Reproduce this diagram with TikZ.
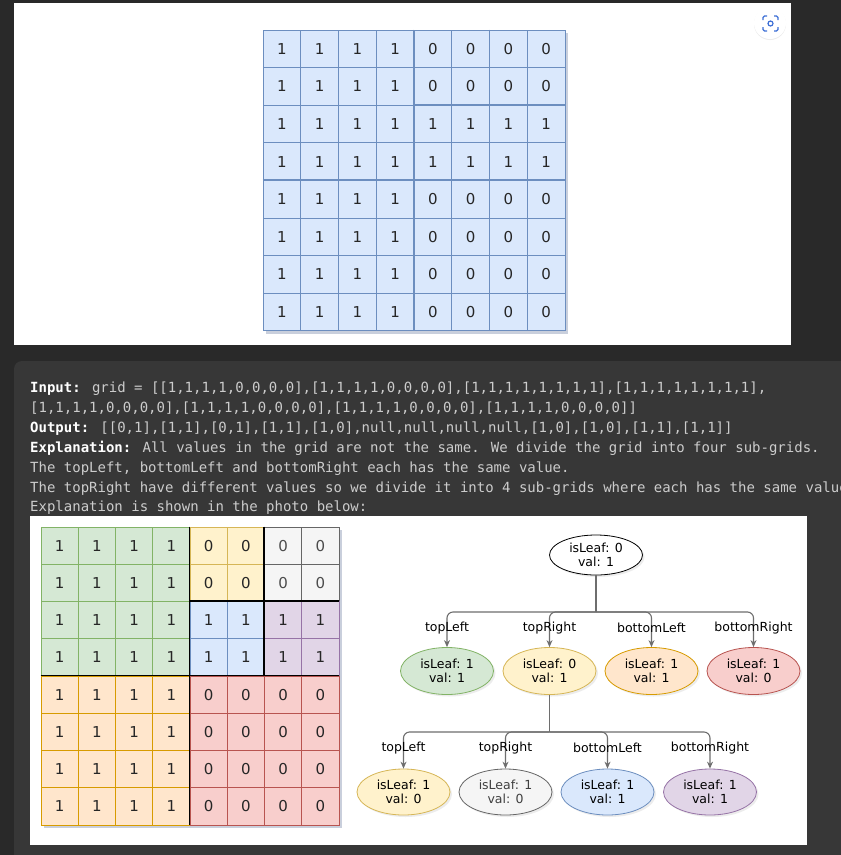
\documentclass[tikz,border=0pt]{standalone}
\usepackage{fontspec}
\setmainfont{DejaVu Sans}
\newfontfamily\codefont{DejaVu Sans Mono}
\usetikzlibrary{positioning,arrows.meta,shapes.geometric,shadows}

\definecolor{pagebg}{HTML}{292929}
\definecolor{boxbg}{HTML}{373737}
\definecolor{codegray}{HTML}{CCCCCC}
\definecolor{linkgray}{HTML}{6E6E6E}
\definecolor{iconblue}{HTML}{3D6FD6}
\definecolor{blueF}{HTML}{DAE8FC}   \definecolor{blueD}{HTML}{6C8EBF}
\definecolor{greenF}{HTML}{D5E8D4}  \definecolor{greenD}{HTML}{82B366}
\definecolor{yellowF}{HTML}{FFF2CC} \definecolor{yellowD}{HTML}{D6B656}
\definecolor{orangeF}{HTML}{FFE6CC} \definecolor{orangeD}{HTML}{D79B00}
\definecolor{redF}{HTML}{F8CECC}    \definecolor{redD}{HTML}{B85450}
\definecolor{grayF}{HTML}{F5F5F5}   \definecolor{grayD}{HTML}{666666}
\definecolor{purpleF}{HTML}{E1D5E7} \definecolor{purpleD}{HTML}{9673A6}
\definecolor{gridshade}{HTML}{C9CFDC}

\tikzset{
  cell/.style={draw, inner sep=0pt, line width=0.7pt, text=black!85, font=\fontsize{15}{15}\selectfont},
  qb/.style={fill=blueF, draw=blueD},
  qg/.style={fill=greenF, draw=greenD},
  qy/.style={fill=yellowF, draw=yellowD},
  qo/.style={fill=orangeF, draw=orangeD},
  qr/.style={fill=redF, draw=redD},
  qw/.style={fill=grayF, draw=grayD, text=black!70},
  qp/.style={fill=purpleF, draw=purpleD},
  tquad/.style={draw=blueD, line width=1.3pt},
  quad/.style={draw=black, line width=1.6pt},
  leaf/.style={ellipse, draw, line width=0.8pt, minimum width=93pt, minimum height=47pt, inner sep=0pt,
    align=center, font=\fontsize{12.5}{13.5}\selectfont,
    drop shadow={shadow xshift=2pt, shadow yshift=-2pt, opacity=.15}},
  lbl/.style={font=\fontsize{12.5}{12.5}\selectfont, inner sep=0pt},
  stem/.style={draw=linkgray, line width=1.1pt},
  link/.style={draw=linkgray, line width=1.1pt, rounded corners=6pt, -{Stealth[length=7pt,width=6pt]}},
  code/.style={anchor=base west, inner sep=0pt, text=codegray, font=\codefont\fontsize{14}{14}\selectfont},
}

\begin{document}
\begin{tikzpicture}[x=1pt, y=-1pt]
\useasboundingbox (0,0) rectangle (841,855);
\fill[pagebg] (0,0) rectangle (841,855);

% top panel
\fill[white] (14,3) rectangle (791,345);
\fill[white, drop shadow={shadow xshift=0pt, shadow yshift=-1pt, opacity=.15}] (770,23) circle (16);
\draw[iconblue, line width=1.3pt, rounded corners=1.5pt] (763,20) |- (767,16) (774,16) -| (778,20)
  (778,27) |- (774,31) (767,31) -| (763,27);
\draw[iconblue, line width=1.2pt] (770.5,23.5) circle (2.5);

\fill[gridshade] (266,33) rectangle (568,334);
\foreach \row [count=\r] in {{1,1,1,1,0,0,0,0},{1,1,1,1,0,0,0,0},{1,1,1,1,1,1,1,1},{1,1,1,1,1,1,1,1},
                             {1,1,1,1,0,0,0,0},{1,1,1,1,0,0,0,0},{1,1,1,1,0,0,0,0},{1,1,1,1,0,0,0,0}}
  \foreach \v [count=\c] in \row
    \node[cell, qb, minimum width=37.75pt, minimum height=37.6pt] (t\r-\c)
      at ({263+37.75*(\c-0.5)}, {30+37.6*(\r-0.5)}) {\v};
\draw[tquad] (t1-5.north west) -- (t8-5.south west);
\draw[tquad] (t5-1.north west) -- (t5-8.north east);
\draw[tquad] (t1-7.north west) -- (t4-7.south west);
\draw[tquad] (t3-5.north west) -- (t3-8.north east);

% example box
\fill[boxbg] (14,855) -- (14,369) arc[start angle=180, end angle=270, radius=8] -- (841,361) -- (841,855) -- cycle;
\begin{scope}
\clip (0,0) rectangle (841,855);
\node[code] (in1) at (30,392.5) {\textbf{\color{white}Input:} grid = [[1,1,1,1,0,0,0,0],[1,1,1,1,0,0,0,0],[1,1,1,1,1,1,1,1],[1,1,1,1,1,1,1,1],};
\node[code] (in2) at (30,412.4) {[1,1,1,1,0,0,0,0],[1,1,1,1,0,0,0,0],[1,1,1,1,0,0,0,0],[1,1,1,1,0,0,0,0]]};
\node[code] (out) at (30,432.3) {\textbf{\color{white}Output:} [[0,1],[1,1],[0,1],[1,1],[1,0],null,null,null,null,[1,0],[1,0],[1,1],[1,1]]};
\node[code] (ex1) at (30,452.2) {\textbf{\color{white}Explanation:} All values in the grid are not the same. We divide the grid into four sub-grids.};
\node[code] (ex2) at (30,472.1) {The topLeft, bottomLeft and bottomRight each has the same value.};
\node[code] (ex3) at (30,492.0) {The topRight have different values so we divide it into 4 sub-grids where each has the same value.};
\node[code] (ex4) at (30,511.9) {Explanation is shown in the photo below:};
\end{scope}

% photo
\fill[white] (30,516) rectangle (807,845);
\fill[gridshade] (44,530) rectangle (342,828);
\foreach \row [count=\r] in {
    {1/qg,1/qg,1/qg,1/qg,0/qy,0/qy,0/qw,0/qw},{1/qg,1/qg,1/qg,1/qg,0/qy,0/qy,0/qw,0/qw},
    {1/qg,1/qg,1/qg,1/qg,1/qb,1/qb,1/qp,1/qp},{1/qg,1/qg,1/qg,1/qg,1/qb,1/qb,1/qp,1/qp},
    {1/qo,1/qo,1/qo,1/qo,0/qr,0/qr,0/qr,0/qr},{1/qo,1/qo,1/qo,1/qo,0/qr,0/qr,0/qr,0/qr},
    {1/qo,1/qo,1/qo,1/qo,0/qr,0/qr,0/qr,0/qr},{1/qo,1/qo,1/qo,1/qo,0/qr,0/qr,0/qr,0/qr}}
  \foreach \v/\q [count=\c] in \row
    \node[cell, \q, minimum size=37.25pt] (b\r-\c) at ({41+37.25*(\c-0.5)}, {527+37.25*(\r-0.5)}) {\v};
\draw[quad] (b1-5.north west) -- (b8-5.south west);
\draw[quad] (b5-1.north west) -- (b5-8.north east);
\draw[quad] (b1-7.north west) -- (b4-7.south west);
\draw[quad] (b3-5.north west) -- (b3-8.north east);

\node[leaf, fill=white, draw=black, minimum height=40pt] (root) at (596,555) {isLeaf: 0\\val: 1};
\node[leaf, fill=greenF, draw=greenD] (tl) at (447,671) {isLeaf: 1\\val: 1};
\node[leaf, fill=yellowF, draw=yellowD] (tr) at (549.5,671) {isLeaf: 0\\val: 1};
\node[leaf, fill=orangeF, draw=orangeD] (bl) at (651.5,671) {isLeaf: 1\\val: 1};
\node[leaf, fill=redF, draw=redD] (br) at (753.5,671) {isLeaf: 1\\val: 0};
\node[leaf, fill=yellowF, draw=yellowD, minimum height=46pt] (trtl) at (403.5,792) {isLeaf: 1\\val: 0};
\node[leaf, fill=grayF, draw=grayD, text=black!75, minimum height=46pt] (trtr) at (505.5,792) {isLeaf: 1\\val: 0};
\node[leaf, fill=blueF, draw=blueD, minimum height=46pt] (trbl) at (607.5,792) {isLeaf: 1\\val: 1};
\node[leaf, fill=purpleF, draw=purpleD, minimum height=46pt] (trbr) at (710,792) {isLeaf: 1\\val: 1};

\coordinate (j1) at (596,612);
\coordinate (j2) at (549.5,732);
\path[stem] (root) -- (j1);
\path[link] (j1) -| (tl);
\path[link] (j1) -| (tr);
\path[link] (j1) -| (bl);
\path[link] (j1) -| (br);
\path[stem] (tr) -- (j2);
\path[link] (j2) -| (trtl);
\path[link] (j2) -| (trtr);
\path[link] (j2) -| (trbl);
\path[link] (j2) -| (trbr);

\node[lbl] (ltl) at (447,628) {topLeft};
\node[lbl] (ltr) at (549.5,628) {topRight};
\node[lbl] (lbl) at (651.5,628) {bottomLeft};
\node[lbl] (lbr) at (753.5,628) {bottomRight};
\node[lbl] (ltrtl) at (403.5,748) {topLeft};
\node[lbl] (ltrtr) at (505.5,748) {topRight};
\node[lbl] (ltrbl) at (607.5,748) {bottomLeft};
\node[lbl] (ltrbr) at (710,748) {bottomRight};
\end{tikzpicture}
\end{document}
